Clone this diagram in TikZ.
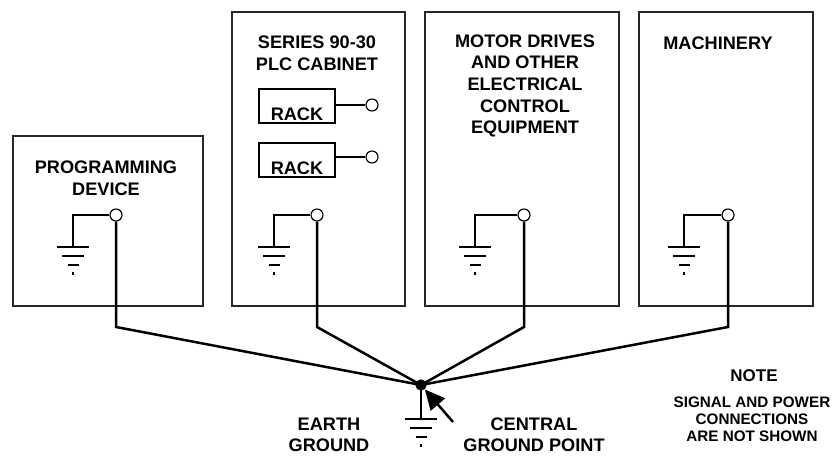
\documentclass[tikz,border=0pt]{standalone}
\usepackage{fontspec}
\setmainfont{Liberation Sans}
\usetikzlibrary{arrows.meta}

\tikzset{
  boxline/.style={line width=0.035cm, black!85},
  wire/.style={line width=0.075cm},
  terminal/.style={draw, circle, fill=white, line width=0.035cm, minimum size=0.36cm, inner sep=0pt},
  rackbox/.style={draw, line width=0.035cm, minimum width=2.28cm, minimum height=1.02cm, inner sep=0pt},
  caption/.style={font=\fontsize{15.5}{18.4}\selectfont\bfseries, align=center, inner sep=0pt},
  smallcaption/.style={font=\fontsize{13}{14.6}\selectfont\bfseries, align=center, inner sep=0pt},
  earth/.pic={
    \draw [line width=0.07cm] (-0.48,0.000000) -- (0.48,0.000000);%
    \draw [line width=0.07cm] (-0.33,-0.270000) -- (0.33,-0.270000);%
    \draw [line width=0.07cm] (-0.165,-0.540000) -- (0.165,-0.540000);%
    \fill (-0.035,-0.850000) rectangle (0.035,-0.760000);%
  }
}

\begin{document}
\begin{tikzpicture}
                        \useasboundingbox (0,0) rectangle (25.110000,13.680000);
                        
                        % Drawing the four cabinets
                        \draw [boxline] (0.390000,4.500000) rectangle (6.090000,9.600000);%
                        \draw [boxline] (6.960000,4.500000) rectangle (12.150000,13.320000);%
                        \draw [boxline] (12.750000,4.500000) rectangle (18.570000,13.320000);%
                        \draw [boxline] (19.170000,4.500000) rectangle (24.390000,13.320000);%
                        
                        % Marking cabinet names
                        \node [caption] (progtext) at (3.180000,8.340000) {PROGRAMMING\\DEVICE};%
                        \node [caption] (plctext) at (9.510000,12.090000) {SERIES 90-30\\PLC CABINET};%
                        \node [caption] (motortext) at (15.750000,11.100000) {MOTOR DRIVES\\AND OTHER\\ELECTRICAL\\CONTROL\\EQUIPMENT};%
                        \node [caption] (machtext) at (21.540000,12.390000) {MACHINERY};%
                        
                        % Drawing racks
                        \node [rackbox, label={[caption, name=racklabelA, anchor=south, inner sep=0.09cm]south:RACK}] (rackA) at (8.910000,10.500000) {};%
                        \node [rackbox, label={[caption, name=racklabelB, anchor=south, inner sep=0.09cm]south:RACK}] (rackB) at (8.910000,8.880000) {};%
                        \node [terminal] (rackAterm) at (11.160000,10.530000) {};%
                        \node [terminal] (rackBterm) at (11.160000,8.970000) {};%
                        \draw [wire] (rackAterm) -- (rackAterm -| rackA.east);%
                        \draw [wire] (rackBterm) -- (rackBterm -| rackB.east);%
                        
                        % Marking ground terminals
                        \node [terminal] (progterm) at (3.480000,7.230000) {};%
                        \node [terminal] (plcterm) at (9.510000,7.230000) {};%
                        \node [terminal] (motorterm) at (15.720000,7.230000) {};%
                        \node [terminal] (machterm) at (21.840000,7.230000) {};%
                        
                        % Drawing local grounds
                        \coordinate (progearth) at (2.190000,6.270000);%
                        \coordinate (plcearth) at (8.220000,6.270000);%
                        \coordinate (motorearth) at (14.250000,6.270000);%
                        \coordinate (machearth) at (20.520000,6.270000);%
                        \draw [wire] (progterm.west) -| (progearth);%
                        \draw [wire] (plcterm.west) -| (plcearth);%
                        \draw [wire] (motorterm.west) -| (motorearth);%
                        \draw [wire] (machterm.west) -| (machearth);%
                        \pic at (progearth) {earth};%
                        \pic at (plcearth) {earth};%
                        \pic at (motorearth) {earth};%
                        \pic at (machearth) {earth};%
                        
                        % Marking central ground point
                        \node [circle, fill, minimum size=0.34cm, inner sep=0pt] (central) at (12.630000,2.130000) {};%
                        \coordinate (centralearth) at (12.630000,1.110000);%
                        \draw [wire] (central.center) -- (centralearth);%
                        \pic at (centralearth) {earth};%
                        
                        % Drawing ground wires
                        \coordinate (progbend) at (3.480000,3.870000);%
                        \coordinate (plcbend) at (9.510000,3.870000);%
                        \coordinate (motorbend) at (15.720000,3.870000);%
                        \coordinate (machbend) at (21.840000,3.870000);%
                        \draw [wire] (progterm.south) -- (progbend) -- (central.center);%
                        \draw [wire] (plcterm.south) -- (plcbend) -- (central.center);%
                        \draw [wire] (motorterm.south) -- (motorbend) -- (central.center);%
                        \draw [wire] (machterm.south) -- (machbend) -- (central.center);%
                        
                        % Drawing pointer
                        \coordinate (pointertail) at (13.590000,1.020000);%
                        \draw [wire, -{Triangle[length=0.60cm, width=0.56cm]}] (pointertail) -- (central);%
                        
                        % Marking ground labels and note
                        \node [caption] (earthtext) at (9.870000,0.640000) {EARTH\\GROUND};%
                        \node [caption] (centraltext) at (16.020000,0.640000) {CENTRAL\\GROUND POINT};%
                        \node [caption, font=\fontsize{14.5}{16}\selectfont\bfseries] (notetitle) at (22.620000,2.400000) {NOTE};%
                        \node [smallcaption] (notetext) at (22.560000,1.110000) {SIGNAL AND POWER\\CONNECTIONS\\ARE NOT SHOWN};%
                    \end{tikzpicture}
\end{document}
